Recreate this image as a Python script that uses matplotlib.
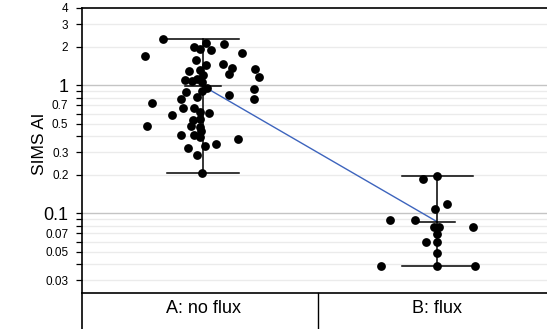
import matplotlib
matplotlib.use("Agg")
import matplotlib.pyplot as plt
import matplotlib.transforms as mtransforms
import numpy as np

plt.rcParams['font.family'] = ['Liberation Sans', 'DejaVu Sans']

categories = ["A: no flux", "B: flux"]

a_values = [2.31, 1.69, 1.99, 1.90, 2.15, 2.11, 1.87, 1.79, 1.57, 1.43, 1.46, 1.37,
            1.23, 1.33, 1.16, 1.29, 1.31, 1.20, 1.09, 1.08, 1.12, 1.06, 0.926, 0.782,
            0.953, 0.903, 0.831, 0.882, 0.782, 0.802, 0.720, 0.658, 0.658, 0.619,
            0.608, 0.587, 0.534, 0.541, 0.479, 0.479, 0.473, 0.440, 0.408, 0.408,
            0.395, 0.377, 0.325, 0.335, 0.345, 0.286, 0.205]
a_offsets = [-0.172, -0.248, -0.038, -0.013, 0.013, 0.090, 0.035, 0.165, -0.030, 0.013,
             0.084, 0.124, 0.110, 0.223, 0.238, -0.058, -0.013, 0.001, -0.077, -0.048,
             -0.024, -0.004, 0.218, 0.218, 0.018, -0.006, 0.110, -0.073, -0.093, -0.024,
             -0.219, -0.087, -0.038, -0.013, 0.027, -0.134, -0.041, -0.013, -0.240, -0.052,
             -0.013, -0.010, -0.093, -0.038, -0.013, 0.149, -0.065, 0.010, 0.057, -0.024,
             -0.004]

b_values = [0.195, 0.184, 0.1175, 0.108, 0.0887, 0.0887, 0.0786, 0.0786, 0.0786, 0.0686,
            0.0594, 0.0594, 0.0488, 0.0391, 0.0391, 0.0391]
b_offsets = [0.0, -0.062, 0.040, -0.009, -0.204, -0.095, -0.014, 0.007, 0.154, 0.0,
             -0.048, 0.0, 0.0, -0.242, 0.0, 0.161]

major_ticks = [0.03, 0.05, 0.07, 0.1, 0.2, 0.3, 0.5, 0.7, 1, 2, 3, 4]
major_labels = ["0.03", "0.05", "0.07", "0.1", "0.2", "0.3", "0.5", "0.7", "1", "2", "3", "4"]
minor_ticks = [0.04, 0.06, 0.08, 0.09, 0.4, 0.6, 0.8, 0.9]

fig = plt.figure(figsize=(5.47, 3.29), dpi=100)
ax = fig.add_axes([82/547, (329-292.7)/329, 1 - 82/547, (292.7-8)/329])

ax.set_yscale('log')
ax.set_ylim(0.024, 4)
ax.set_xlim(-0.5164, 1.468)

# gridlines
for v in major_ticks + minor_ticks:
    if v in (1, 0.1):
        ax.axhline(v, color='#c4c4c4', lw=1.0, zorder=0)
    elif v != 4:
        ax.axhline(v, color='#ebebeb', lw=1.0, zorder=0)

groups = [(a_values, a_offsets), (b_values, b_offsets)]
means = []
for i, (vals, offs) in enumerate(groups):
    vals = np.array(vals)
    offs = np.array(offs)
    mean = vals.mean()
    means.append(mean)
    ax.scatter(i + offs, vals, s=40, color='black', zorder=3, linewidths=0)
    # range bar
    ax.plot([i, i], [vals.min(), vals.max()], color='black', lw=1.1, zorder=2)
    ax.plot([i - 0.152, i + 0.152], [vals.max()] * 2, color='black', lw=1.1, zorder=2)
    ax.plot([i - 0.152, i + 0.152], [vals.min()] * 2, color='black', lw=1.1, zorder=2)
    ax.plot([i - 0.077, i + 0.077], [mean] * 2, color='black', lw=1.1, zorder=4)

ax.plot([0, 1], means, color='#3d64bd', lw=1.0, zorder=1)

ax.set_yticks(major_ticks)
ax.set_yticklabels(major_labels)
ax.set_yticks(minor_ticks, minor=True)
ax.yaxis.set_minor_formatter(matplotlib.ticker.NullFormatter())
ax.tick_params(axis='y', which='both', length=4.3, width=0.9, pad=5.5, labelsize=8.5)
for lab in ax.get_yticklabels():
    if lab.get_text() in ("1", "0.1"):
        lab.set_fontsize(13)

ax.set_xticks([])
for s in ['left', 'top', 'bottom']:
    ax.spines[s].set_linewidth(1.2)
ax.spines['right'].set_visible(False)

trans = mtransforms.blended_transform_factory(ax.transData, ax.transAxes)
for i, c in enumerate(categories):
    ax.text(i, -0.057, c, transform=trans, ha='center', va='center', fontsize=13)

# category separators
ax.plot([0, 0], [0, -0.2], transform=ax.transAxes, color='black', lw=1.2, clip_on=False)
ax.plot([0.5075, 0.5075], [0, -0.2], transform=ax.transAxes, color='black', lw=1.0, clip_on=False)

fig.text(40/547, 1 - 144/329, "SIMS Al", rotation=90, ha='center', va='center', fontsize=12.5)

fig.savefig("out.png", dpi=100)
